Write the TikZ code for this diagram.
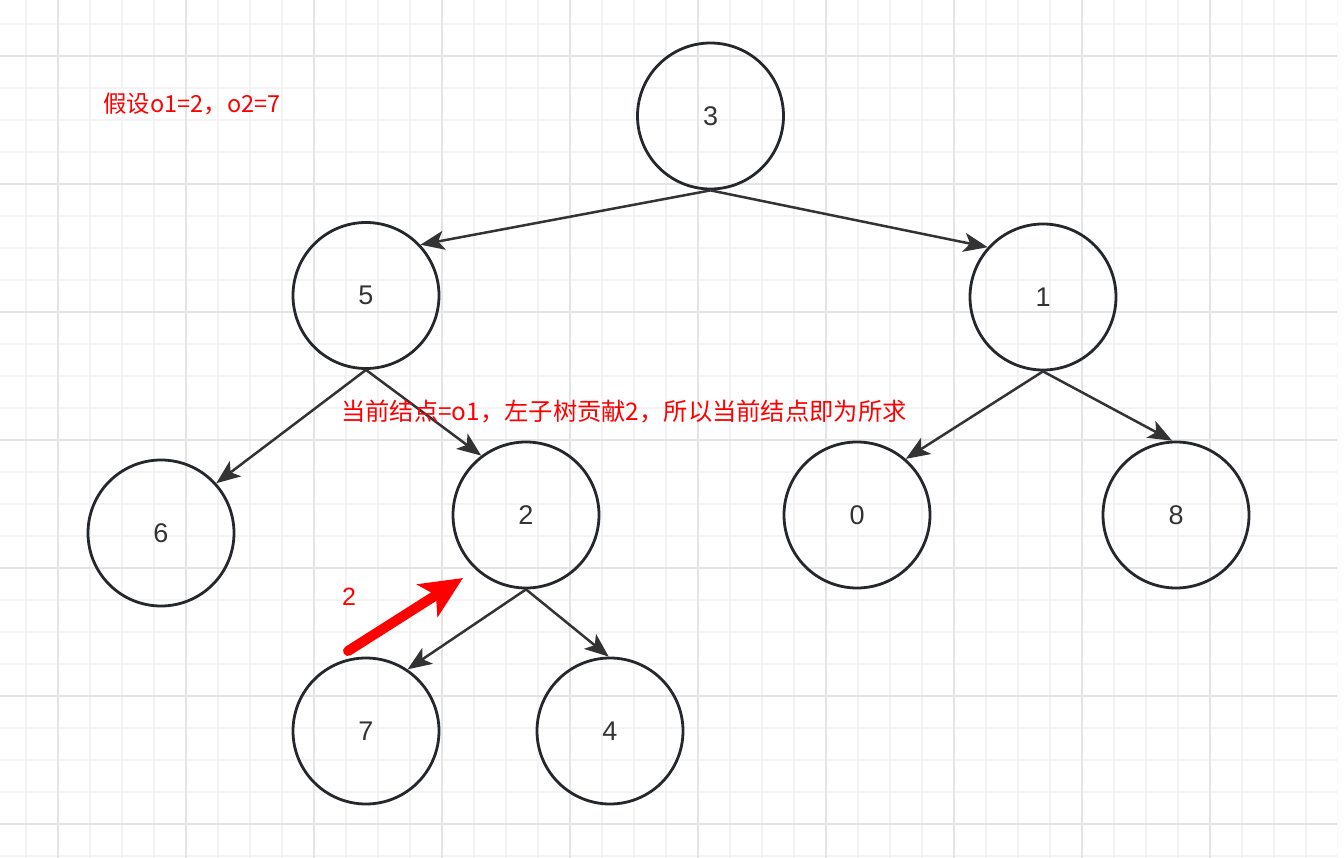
\documentclass[tikz,border=0pt]{standalone}
\usepackage{fontspec}
\setmainfont{Liberation Sans}
\newfontfamily\cjk{Noto Sans CJK SC}
\usetikzlibrary{arrows.meta}
\definecolor{gminor}{HTML}{F3F3F3}
\definecolor{gmajor}{HTML}{E4E4E4}
\definecolor{stroke}{HTML}{24272B}
\definecolor{edgec}{HTML}{333333}
\definecolor{txt}{HTML}{333333}
\definecolor{redc}{HTML}{FF0000}
\tikzset{
  treenode/.style={circle, draw=stroke, line width=2.8pt, minimum size=146pt, inner sep=0pt, text=txt, font=\fontsize{27}{31}\selectfont},
  treeedge/.style={draw=edgec, line width=2.5pt, -{Stealth[length=24pt,width=19pt,inset=6pt]}},
  note/.style={text=redc, inner sep=0pt, font=\cjk\fontsize{23.5}{28}\selectfont},
  redarrow/.style={draw=redc, line width=10pt, line cap=round, -{Stealth[length=42pt,width=38pt,inset=10pt]}}
}
\begin{document}
\begin{tikzpicture}[x=1pt,y=-1pt]
\useasboundingbox (0,0) rectangle (1344,858);
\fill[white] (0,0) rectangle (1344,858);
\begin{scope}
\clip (0,0) rectangle (1337,858);
\foreach \i in {0,...,41} {
  \draw[gminor, line width=1.4pt] ({26+32*\i},0) -- ({26+32*\i},858);
}
\foreach \i in {0,...,26} {
  \draw[gminor, line width=1.4pt] (0,{24+32*\i}) -- (1337,{24+32*\i});
}
\foreach \i in {0,...,10} {
  \draw[gmajor, line width=1.6pt] ({58+128*\i},0) -- ({58+128*\i},858);
}
\foreach \i in {0,...,6} {
  \draw[gmajor, line width=1.6pt] (0,{56+128*\i}) -- (1337,{56+128*\i});
}
\end{scope}

\node[treenode] (c3) at (710.5,116) {3};
\node[treenode] (c5) at (366,295.5) {5};
\node[treenode] (c1) at (1043,297) {1};
\node[treenode] (c6) at (161,533) {6};
\node[treenode] (c2) at (526,515) {2};
\node[treenode] (c0) at (857,515) {0};
\node[treenode] (c8) at (1176,515) {8};
\node[treenode] (c7) at (366,731) {7};
\node[treenode] (c4) at (610,731) {4};

\draw[treeedge] (c3.south) -- (c5.43);
\draw[treeedge] (c3.south) -- (c1.138);
\draw[treeedge] (c5.south) -- (c6.42);
\draw[treeedge] (c5.south) -- (c2.127);
\draw[treeedge] (c1.south) -- (c0.49);
\draw[treeedge] (c1.south) -- (c8.93);
\draw[treeedge] (c2.south) -- (c7.56);
\draw[treeedge] (c2.south) -- (c4.91);

\node[note] (n1) at (192,104) {假设o1=2，o2=7};
\node[note, font=\cjk\fontsize{24.3}{28}\selectfont] (n2) at (624,412) {当前结点=o1，左子树贡献2，所以当前结点即为所求};
\node[text=redc, inner sep=0pt, font=\fontsize{25}{29}\selectfont] (n3) at (349,597) {2};

\coordinate (rs) at (348,651);
\coordinate (re) at (463,578);
\draw[redarrow] (rs) -- (re);
\end{tikzpicture}
\end{document}
